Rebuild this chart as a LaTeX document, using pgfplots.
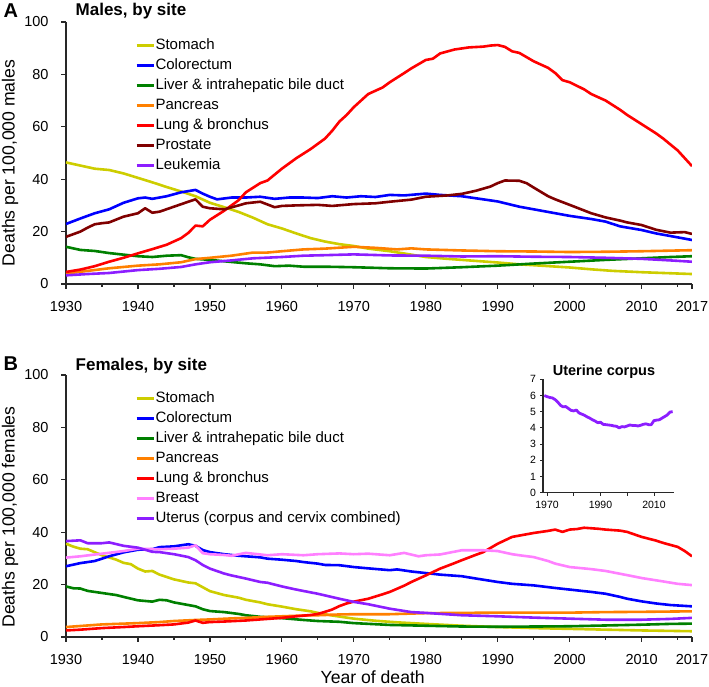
\documentclass[border=0pt]{standalone}
\usepackage{pgfplots}
\pgfplotsset{compat=1.18}
\usepackage{fontspec}
\setmainfont{Liberation Sans}
\definecolor{cstom}{RGB}{205,205,0}
\definecolor{ccolo}{RGB}{0,0,255}
\definecolor{cliver}{RGB}{0,128,0}
\definecolor{cpanc}{RGB}{255,128,0}
\definecolor{clung}{RGB}{255,0,0}
\definecolor{cpros}{RGB}{128,0,0}
\definecolor{cleuk}{RGB}{140,30,255}
\definecolor{cbreast}{RGB}{255,128,255}
\definecolor{axc}{RGB}{40,40,40}
\pgfplotsset{
  mainax/.style={
    scale only axis, width=626pt, height=262pt,
    xmin=1930, xmax=2017, ymin=0, ymax=100,
    axis x line*=bottom, axis y line*=left,
    axis line style={line width=1.5pt, axc, -},
    xtick={1930,1940,1950,1960,1970,1980,1990,2000,2010,2017},
    minor xtick={1935,1945,1955,1965,1975,1985,1995,2005,2015},
    ytick={0,20,40,60,80,100},
    tick align=outside, major tick length=5pt, minor tick length=3pt,
    every tick/.style={line width=1.2pt, axc},
    tick label style={font=\fontsize{14.5}{17}\selectfont},
    /pgf/number format/assume math mode=true,
    /pgf/number format/set thousands separator={},
    xticklabel style={yshift=-8.5pt},
    yticklabel style={xshift=-9pt},
    every axis plot/.append style={line width=2.6pt, line join=round, mark=none},
    legend style={at={(axis description cs:0.110,0.939)}, anchor=north west,
      draw=none, fill=none, font=\fontsize{15}{18}\selectfont, inner sep=0pt,
      row sep=5pt, nodes={inner sep=0.5pt, text height=11pt, text depth=3pt}},
    legend cell align=left,
    legend image code/.code={\draw[#1, line width=3pt] (0pt,0pt) -- (17pt,0pt);},
    ylabel style={anchor=center, font=\fontsize{17.6}{21}\selectfont},
  }
}
\begin{document}
\begin{tikzpicture}[x=1pt,y=1pt]
\useasboundingbox (0,0) rectangle (709,687);
% ---------------- Panel A ----------------
\begin{axis}[mainax, at={(66pt,403pt)}, anchor=south west,
  ylabel={Deaths per 100,000 males},
  ylabel style={at={(axis description cs:-0.0895,0.462)}}]
\addplot[cstom] coordinates {(1930,46.4)(1932,45.2)(1934,44)(1936,43.5)(1938,42.2)(1940,40.5)(1942,38.8)(1944,37)(1946,35.3)(1948,33.5)(1950,31)(1952,29.3)(1954,27.5)(1956,25.3)(1958,22.8)(1960,21.2)(1962,19.3)(1964,17.5)(1966,16.2)(1968,15.2)(1970,14.5)(1972,13.5)(1975,12.5)(1978,11.2)(1980,10.3)(1983,9.6)(1986,9.0)(1990,8.2)(1993,7.5)(1996,7.0)(2000,6.3)(2003,5.6)(2006,5.0)(2010,4.5)(2013,4.2)(2017,3.8)};
\addlegendentry{Stomach}
\addplot[ccolo] coordinates {(1930,22.9)(1932,25)(1934,27)(1936,28.5)(1938,31)(1940,32.7)(1941,33)(1942,32.5)(1944,33.5)(1946,35)(1948,35.9)(1949,34.5)(1950,33.3)(1951,32.3)(1953,33)(1955,33)(1957,33.3)(1959,32.5)(1961,33)(1963,33)(1965,32.8)(1967,33.5)(1969,33)(1971,33.5)(1973,33.2)(1975,34)(1977,33.8)(1980,34.5)(1982,34)(1985,33.5)(1988,32.3)(1990,31.5)(1993,29.5)(1995,28.5)(1998,27)(2000,26)(2003,24.8)(2005,23.8)(2007,22)(2010,20.6)(2012,19.3)(2015,17.8)(2017,16.8)};
\addlegendentry{Colorectum}
\addplot[cliver] coordinates {(1930,14.2)(1932,13)(1934,12.6)(1936,11.8)(1938,11.2)(1940,10.6)(1942,10.3)(1944,10.8)(1946,11)(1947,10.2)(1948,9.6)(1950,9.2)(1953,8.4)(1955,7.9)(1957,7.5)(1959,6.8)(1961,7.0)(1963,6.6)(1966,6.6)(1970,6.4)(1975,6.0)(1980,5.9)(1985,6.4)(1990,7.0)(1995,7.8)(2000,8.5)(2005,9.2)(2010,9.8)(2014,10.3)(2017,10.6)};
\addlegendentry{Liver \& intrahepatic bile duct}
\addplot[cpanc] coordinates {(1930,4.0)(1933,5.0)(1936,6.0)(1940,7.0)(1943,7.5)(1946,8.3)(1948,9.5)(1950,10)(1953,10.8)(1956,12)(1958,12)(1960,12.5)(1963,13.2)(1966,13.5)(1970,14.2)(1973,13.8)(1976,13.2)(1978,13.6)(1980,13.2)(1985,12.8)(1990,12.5)(1995,12.4)(2000,12.2)(2005,12.3)(2010,12.5)(2017,12.9)};
\addlegendentry{Pancreas}
\addplot[clung] coordinates {(1930,4.6)(1932,5.5)(1934,6.8)(1936,8.5)(1938,10)(1940,11.7)(1942,13.3)(1944,15)(1946,17.5)(1947,19.5)(1948,22.3)(1949,22)(1950,24.5)(1952,28)(1954,32)(1955,35)(1957,38.5)(1958,39.5)(1960,44)(1962,48)(1964,51.5)(1966,55.5)(1967,58.5)(1968,62)(1969,64.5)(1970,67.5)(1972,72.5)(1974,75)(1975,77)(1977,80.5)(1978,82.3)(1980,85.5)(1981,86)(1982,88)(1984,89.5)(1986,90.3)(1988,90.6)(1989,91)(1990,91.2)(1991,90.5)(1992,88.8)(1993,88.2)(1995,85)(1997,82.5)(1998,80.5)(1999,77.8)(2000,77)(2002,74.3)(2003,72.5)(2005,70)(2007,66.5)(2008,64.5)(2010,61)(2012,57.5)(2013,55.5)(2015,51)(2016,48)(2017,45)};
\addlegendentry{Lung \& bronchus}
\addplot[cpros] coordinates {(1930,18)(1932,20)(1933,21.5)(1934,22.8)(1935,23.2)(1936,23.5)(1938,25.7)(1940,27)(1941,28.9)(1942,27.2)(1943,27.6)(1945,29.5)(1947,31.4)(1948,32.3)(1949,29.5)(1950,28.9)(1952,28.5)(1954,30)(1955,30.8)(1957,31.4)(1959,29.3)(1960,29.8)(1962,30)(1965,30.2)(1967,29.8)(1970,30.5)(1973,30.8)(1975,31.4)(1978,32.2)(1980,33.3)(1983,33.8)(1985,34.4)(1987,35.6)(1989,37.2)(1990,38.5)(1991,39.5)(1993,39.4)(1994,38.5)(1995,36.8)(1997,33.5)(1998,32.3)(2000,30.2)(2003,27)(2005,25.4)(2007,24.2)(2008,23.5)(2010,22.5)(2012,20.7)(2014,19.6)(2016,19.8)(2017,19.1)};
\addlegendentry{Prostate}
\addplot[cleuk] coordinates {(1930,3.3)(1933,3.8)(1936,4.2)(1940,5.3)(1943,5.8)(1946,6.5)(1948,7.5)(1950,8.3)(1953,9)(1956,9.8)(1960,10.3)(1963,10.8)(1966,11)(1970,11.3)(1975,10.9)(1980,10.8)(1985,10.5)(1990,10.6)(1995,10.4)(2000,10.3)(2005,10)(2010,9.6)(2014,9.0)(2017,8.5)};
\addlegendentry{Leukemia}
\end{axis}
% ---------------- Panel B ----------------
\begin{axis}[mainax, at={(66pt,50pt)}, anchor=south west,
  ylabel={Deaths per 100,000 females},
  ylabel style={at={(axis description cs:-0.0895,0.458)}},
  xlabel={Year of death},
  xlabel style={at={(axis description cs:0.49,-0.153)}, anchor=center, font=\fontsize{17.6}{21}\selectfont}]
\addplot[cstom] coordinates {(1930,35.6)(1931,34.5)(1932,33.7)(1933,33.5)(1935,31.2)(1937,29.5)(1938,28.3)(1939,27.8)(1940,26.1)(1941,25)(1942,25.2)(1943,23.8)(1945,22)(1947,20.8)(1948,20.5)(1949,19)(1950,17.5)(1952,16)(1954,15)(1955,14.2)(1957,13.2)(1958,12.5)(1960,11.6)(1962,10.6)(1964,9.8)(1965,9.2)(1967,8.2)(1970,7.0)(1973,6.2)(1976,5.6)(1980,5.0)(1985,4.3)(1990,3.8)(1995,3.4)(2000,3.1)(2005,2.8)(2010,2.5)(2017,2.2)};
\addlegendentry{Stomach}
\addplot[ccolo] coordinates {(1930,27)(1932,28.2)(1934,29)(1936,30.8)(1938,32.3)(1940,33.3)(1942,33.5)(1943,34.3)(1945,34.6)(1947,35.4)(1948,34.8)(1949,33.2)(1950,32.4)(1952,31.6)(1954,31)(1955,30.8)(1957,30.4)(1958,29.9)(1960,29.5)(1962,29)(1963,28.6)(1965,28)(1966,27.5)(1968,27.4)(1970,26.7)(1972,26.2)(1975,25.5)(1976,25.8)(1978,25)(1980,24.4)(1982,23.8)(1984,23.4)(1985,23.2)(1987,22.3)(1990,21)(1992,20.3)(1995,19.7)(1998,18.7)(2000,18.1)(2003,17.2)(2005,16.5)(2007,15.3)(2008,14.6)(2010,13.6)(2012,12.8)(2014,12.2)(2017,11.7)};
\addlegendentry{Colorectum}
\addplot[cliver] coordinates {(1930,19.3)(1931,18.6)(1932,18.5)(1933,17.6)(1935,16.8)(1937,16)(1938,15.3)(1940,14)(1942,13.5)(1943,14.2)(1944,14)(1945,13.2)(1947,12.2)(1948,11.7)(1949,10.6)(1950,9.9)(1952,9.5)(1954,8.8)(1955,8.3)(1957,7.7)(1960,7.2)(1963,6.5)(1965,6.1)(1968,5.8)(1970,5.3)(1975,4.6)(1980,4.3)(1985,4.0)(1990,3.9)(1995,4.0)(2000,4.1)(2005,4.4)(2010,4.7)(2014,5.0)(2017,5.1)};
\addlegendentry{Liver \& intrahepatic bile duct}
\addplot[cpanc] coordinates {(1930,3.8)(1932,4.2)(1935,4.8)(1938,5.1)(1940,5.3)(1943,5.7)(1945,6.1)(1948,6.5)(1950,6.7)(1953,7.1)(1955,7.3)(1958,7.7)(1960,7.9)(1963,8.2)(1965,8.3)(1968,8.6)(1970,8.7)(1975,8.7)(1980,9.1)(1985,9.2)(1990,9.3)(1995,9.3)(2000,9.3)(2005,9.5)(2010,9.6)(2017,9.8)};
\addlegendentry{Pancreas}
\addplot[clung] coordinates {(1930,2.5)(1932,2.8)(1935,3.4)(1938,3.8)(1940,4.1)(1943,4.5)(1945,4.8)(1947,5.5)(1948,6.3)(1949,5.4)(1950,5.7)(1952,5.9)(1955,6.3)(1958,6.9)(1960,7.3)(1962,7.9)(1964,8.4)(1965,8.8)(1966,9.6)(1967,10.5)(1968,11.8)(1969,12.8)(1970,13.5)(1972,14.6)(1974,16.3)(1975,17.2)(1977,19.6)(1978,21)(1980,23.5)(1982,26.1)(1984,28.2)(1985,29.3)(1987,31.4)(1988,32.4)(1990,35.6)(1992,38.2)(1994,39.2)(1995,39.7)(1997,40.5)(1998,41)(1999,40.1)(2000,41)(2001,41.2)(2002,41.7)(2004,41.3)(2005,41)(2007,40.6)(2008,40.1)(2010,38.2)(2012,36.8)(2013,35.9)(2015,34.4)(2016,32.8)(2017,30.8)};
\addlegendentry{Lung \& bronchus}
\addplot[cbreast] coordinates {(1930,30.3)(1932,30.8)(1935,31.8)(1938,32.8)(1940,33.7)(1943,33.5)(1945,33.7)(1947,34.1)(1948,35)(1949,32)(1950,31.6)(1952,31.3)(1953,31)(1955,32.1)(1957,31.5)(1958,31.2)(1960,31.6)(1963,31.2)(1965,31.6)(1968,31.9)(1970,31.6)(1972,31.8)(1975,31.2)(1977,32.1)(1979,30.8)(1980,31.2)(1982,31.5)(1985,33.1)(1988,33.1)(1990,32.8)(1992,31.6)(1993,31.2)(1995,30.5)(1997,29)(1998,28)(2000,26.7)(2003,25.9)(2005,25.2)(2008,23.6)(2010,22.5)(2013,21.2)(2015,20.3)(2017,19.8)};
\addlegendentry{Breast}
\addplot[cleuk] coordinates {(1930,36.6)(1932,36.9)(1933,35.8)(1935,35.8)(1936,36.1)(1938,34.8)(1940,34.1)(1942,32.5)(1943,32.4)(1945,31.6)(1947,30.5)(1948,29.3)(1949,27.5)(1950,26.1)(1952,24.2)(1953,23.5)(1955,22.3)(1957,21)(1958,20.7)(1960,19.3)(1962,18.1)(1965,16.5)(1968,14.6)(1970,13.4)(1972,12.5)(1975,10.8)(1978,9.5)(1980,9.2)(1985,8.3)(1990,7.9)(1995,7.4)(2000,7.0)(2005,6.6)(2010,6.6)(2014,6.9)(2017,7.3)};
\addlegendentry{Uterus (corpus and cervix combined)}
\end{axis}
% ---------------- Inset ----------------
\begin{axis}[scale only axis, width=131pt, height=113.4pt,
  at={(543pt,194.3pt)}, anchor=south west,
  xmin=1968.5, xmax=2017.5, ymin=0, ymax=7,
  axis x line*=bottom, axis y line*=left,
  axis line style={line width=1.1pt, axc, -},
  xtick={1970,1990,2010}, minor xtick={1980,2000},
  ytick={0,1,2,3,4,5,6,7},
  tick align=outside, major tick length=3pt, minor tick length=3pt,
  every tick/.style={line width=0.9pt, axc},
  tick label style={font=\fontsize{10.5}{12}\selectfont},
  /pgf/number format/assume math mode=true,
  /pgf/number format/set thousands separator={},
  xticklabel style={yshift=-1.5pt},
  yticklabel style={xshift=-0.5pt}]
\addplot[cleuk, line width=2.8pt, line join=round, mark=none] coordinates {(1969,6.0)(1970,5.93)(1971,5.88)(1972,5.85)(1973,5.75)(1974,5.6)(1975,5.4)(1976,5.3)(1977,5.32)(1978,5.2)(1979,5.08)(1980,5.05)(1981,5.1)(1982,4.92)(1983,4.85)(1984,4.78)(1985,4.68)(1986,4.6)(1987,4.5)(1988,4.42)(1989,4.32)(1990,4.35)(1991,4.22)(1992,4.2)(1993,4.18)(1994,4.16)(1995,4.12)(1996,4.1)(1997,4.0)(1998,4.08)(1999,4.06)(2000,4.12)(2001,4.18)(2002,4.15)(2003,4.15)(2004,4.12)(2005,4.16)(2006,4.22)(2007,4.25)(2008,4.2)(2009,4.2)(2010,4.45)(2011,4.48)(2012,4.5)(2013,4.6)(2014,4.7)(2015,4.8)(2016,4.98)(2017,5.0)};
\end{axis}
% ---------------- Titles ----------------
\node[anchor=base west, inner sep=0pt, font=\bfseries\fontsize{20}{24}\selectfont] at (3.5,669.8) {A};
\node[anchor=base west, inner sep=0pt, font=\bfseries\fontsize{17}{20}\selectfont] at (75.5,671) {Males, by site};
\node[anchor=base west, inner sep=0pt, font=\bfseries\fontsize{20}{24}\selectfont] at (3.5,316.3) {B};
\node[anchor=base west, inner sep=0pt, font=\bfseries\fontsize{17}{20}\selectfont] at (75.5,316.3) {Females, by site};
\node[anchor=base, inner sep=0pt, font=\bfseries\fontsize{14.5}{17}\selectfont] at (604,311) {Uterine corpus};
\end{tikzpicture}
\end{document}
